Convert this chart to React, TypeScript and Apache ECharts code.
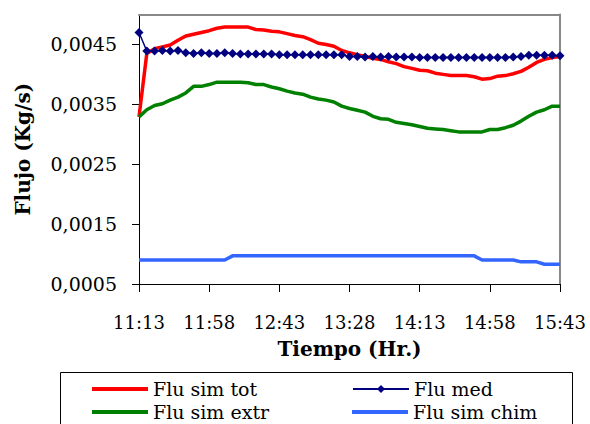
import React, { useEffect, useRef } from "react";
import * as echarts from "echarts";

const times = [
  "11:13", "11:18", "11:23", "11:28", "11:33", "11:38", "11:43", "11:48", "11:53", "11:58",
  "12:03", "12:08", "12:13", "12:18", "12:23", "12:28", "12:33", "12:38", "12:43", "12:48", "12:53", "12:58",
  "13:03", "13:08", "13:13", "13:18", "13:23", "13:28", "13:33", "13:38", "13:43", "13:48", "13:53", "13:58",
  "14:03", "14:08", "14:13", "14:18", "14:23", "14:28", "14:33", "14:38", "14:43", "14:48", "14:53", "14:58",
  "15:03", "15:08", "15:13", "15:18", "15:23", "15:28", "15:33", "15:38", "15:43",
];

const fluSimTot = [
  0.00329, 0.00435, 0.00443, 0.00446, 0.00449, 0.00457, 0.00464, 0.00467, 0.0047, 0.00473,
  0.00477, 0.00479, 0.00479, 0.00479, 0.00479, 0.00475, 0.00474, 0.00472, 0.00471, 0.00468,
  0.00465, 0.00463, 0.00458, 0.00452, 0.0045, 0.00447, 0.0044, 0.00436, 0.00433, 0.0043,
  0.00427, 0.00425, 0.00421, 0.00418, 0.00413, 0.0041, 0.00407, 0.00406, 0.00402, 0.004,
  0.00398, 0.00398, 0.00398, 0.00396, 0.00392, 0.00393, 0.00397, 0.00398, 0.00401, 0.00405,
  0.00412, 0.0042, 0.00425, 0.00428, 0.0043,
];

const fluMed = [
  0.0047, 0.00439, 0.00439, 0.0044, 0.00439, 0.0044, 0.00436, 0.00435, 0.00436, 0.00435,
  0.00435, 0.00436, 0.00435, 0.00434, 0.00434, 0.00434, 0.00434, 0.00434, 0.00433, 0.00433,
  0.00433, 0.00433, 0.00433, 0.00433, 0.00433, 0.00433, 0.00433, 0.0043, 0.0043, 0.00429,
  0.0043, 0.00429, 0.0043, 0.00429, 0.00429, 0.00429, 0.00428, 0.00428, 0.00428, 0.00428,
  0.00428, 0.00428, 0.00428, 0.00428, 0.00428, 0.00428, 0.00428, 0.00428, 0.00429, 0.0043,
  0.00432, 0.00432, 0.00432, 0.00432, 0.00431,
];

const fluSimExtr = [
  0.00329, 0.00341, 0.00348, 0.00351, 0.00357, 0.00362, 0.00369, 0.0038, 0.0038, 0.00383,
  0.00387, 0.00387, 0.00387, 0.00387, 0.00386, 0.00383, 0.00383, 0.00379, 0.00376, 0.00372,
  0.00369, 0.00367, 0.00362, 0.00359, 0.00357, 0.00354, 0.00347, 0.00343, 0.0034, 0.00337,
  0.0033, 0.00326, 0.00325, 0.0032, 0.00318, 0.00316, 0.00313, 0.0031, 0.00309, 0.00308,
  0.00306, 0.00304, 0.00304, 0.00304, 0.00304, 0.00308, 0.00308, 0.00311, 0.00315, 0.00322,
  0.0033, 0.00337, 0.00341, 0.00347, 0.00347,
];

const fluSimChim = [
  0.0009, 0.0009, 0.0009, 0.0009, 0.0009, 0.0009, 0.0009, 0.0009, 0.0009, 0.0009,
  0.0009, 0.0009, 0.00097, 0.00097, 0.00097, 0.00097, 0.00097, 0.00097, 0.00097, 0.00097,
  0.00097, 0.00097, 0.00097, 0.00097, 0.00097, 0.00097, 0.00097, 0.00097, 0.00097, 0.00097,
  0.00097, 0.00097, 0.00097, 0.00097, 0.00097, 0.00097, 0.00097, 0.00097, 0.00097, 0.00097,
  0.00097, 0.00097, 0.00097, 0.00097, 0.0009, 0.0009, 0.0009, 0.0009, 0.0009, 0.00087,
  0.00087, 0.00087, 0.00083, 0.00083, 0.00083,
];

const yTicks = [0.0005, 0.0015, 0.0025, 0.0035, 0.0045];

const FONT = "DejaVu Serif";

const legendItem = (name: string, left: number, top: number, icon?: string) => ({
  orient: "horizontal",
  left,
  top,
  padding: 0,
  itemWidth: 56,
  itemHeight: icon ? 4 : 10,
  itemGap: 0,
  data: [icon ? { name, icon } : { name }],
  textStyle: { fontSize: 19, color: "#000", fontFamily: FONT, lineHeight: 23 },
});

export default function App() {
  const ref = useRef<HTMLDivElement>(null);
  useEffect(() => {
    if (!ref.current) return;
    const chart = echarts.init(ref.current, null, { renderer: "svg" });
    chart.setOption({
      animation: false,
      backgroundColor: "#ffffff",
      textStyle: { fontFamily: FONT },
      grid: { left: 139, right: 30, top: 14.5, bottom: 140, containLabel: false, outerBoundsMode: "none" },
      xAxis: [
        {
          type: "category",
          data: times,
          boundaryGap: false,
          axisLine: { lineStyle: { color: "#000", width: 1 } },
          axisTick: { show: true, interval: 8, length: 8, lineStyle: { color: "#000" } },
          axisLabel: { interval: 8, color: "#000", fontSize: 18, fontFamily: FONT, margin: 29 },
          name: "Tiempo (Hr.)",
          nameLocation: "middle",
          nameGap: 55,
          nameTextStyle: { fontSize: 20, fontWeight: "bold", color: "#000", fontFamily: FONT },
          splitLine: { show: false },
        },
        {
          type: "category",
          data: times,
          boundaryGap: false,
          position: "top",
          axisLine: { lineStyle: { color: "#888", width: 2 } },
          axisTick: { show: false },
          axisLabel: { show: false },
          splitLine: { show: false },
        },
      ],
      yAxis: [
        {
          type: "value",
          min: 0.0005,
          max: 0.005,
          axisLine: { show: true, lineStyle: { color: "#000", width: 1 } },
          axisTick: { show: true, length: 7, customValues: yTicks, lineStyle: { color: "#000" } },
          axisLabel: {
            customValues: yTicks,
            color: "#000",
            fontSize: 19,
            fontFamily: FONT,
            margin: 22,
            formatter: (v: number) => v.toFixed(4).replace(".", ","),
          },
          splitLine: { show: false },
          name: "Flujo (Kg/s)",
          nameLocation: "middle",
          nameGap: 106,
          nameTextStyle: { fontSize: 20, fontWeight: "bold", color: "#000", fontFamily: FONT },
        },
        {
          type: "value",
          min: 0.0005,
          max: 0.005,
          position: "right",
          axisLine: { show: true, lineStyle: { color: "#888", width: 2 } },
          axisTick: { show: false },
          axisLabel: { show: false },
          splitLine: { show: false },
        },
      ],
      legend: [
        legendItem("Flu sim tot", 92, 377.5, "rect"),
        legendItem("Flu sim extr", 92, 400.5, "rect"),
        legendItem("Flu med", 352, 377.5),
        legendItem("Flu sim chim", 352, 400.5, "rect"),
      ],
      graphic: [
        {
          type: "rect",
          shape: { x: 60.5, y: 372.5, width: 512, height: 80 },
          style: { fill: "none", stroke: "#000", lineWidth: 1 },
          z: 0,
        },
      ],
      series: [
        {
          name: "Flu sim tot",
          type: "line",
          data: fluSimTot,
          symbol: "none",
          lineStyle: { color: "#ff0000", width: 3.5 },
          itemStyle: { color: "#ff0000" },
        },
        {
          name: "Flu med",
          type: "line",
          data: fluMed,
          symbol: "diamond",
          symbolSize: 9,
          showAllSymbol: true,
          lineStyle: { color: "#000080", width: 1.5 },
          itemStyle: { color: "#000080" },
        },
        {
          name: "Flu sim extr",
          type: "line",
          data: fluSimExtr,
          symbol: "none",
          lineStyle: { color: "#008000", width: 3.5 },
          itemStyle: { color: "#008000" },
        },
        {
          name: "Flu sim chim",
          type: "line",
          data: fluSimChim,
          symbol: "none",
          lineStyle: { color: "#3366ff", width: 3.5 },
          itemStyle: { color: "#3366ff" },
        },
      ],
    });
    return () => chart.dispose();
  }, []);
  return <div ref={ref} style={{ width: 590, height: 424, position: "absolute", left: 0, top: 0 }} />;
}
